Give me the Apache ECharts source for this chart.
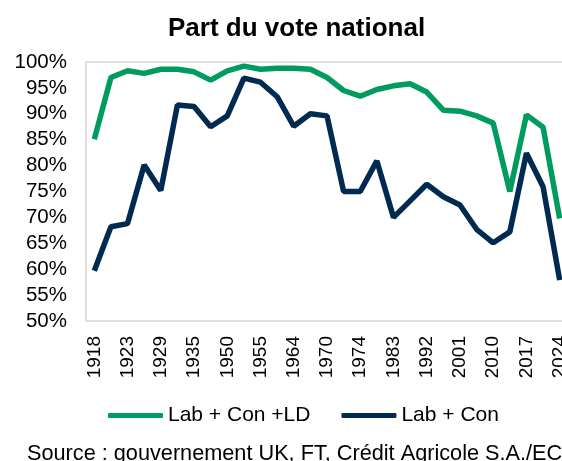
<!DOCTYPE html>
<html>
<head>
<meta charset="utf-8">
<script src="https://cdn.jsdelivr.net/npm/echarts@6/dist/echarts.min.js"></script>
<style>
html,body{margin:0;padding:0;background:#fff;}
#chart{width:562px;height:461px;}
</style>
</head>
<body>
<div id="chart"></div>
<script>
var years = ['1918','1922','1923','1924','1929','1931','1935','1945','1950','1951','1955','1959','1964','1966','1970','1974','1974','1979','1983','1987','1992','1997','2001','2005','2010','2015','2017','2019','2024'];
var labConLd = [85.1,97.0,98.3,97.8,98.6,98.6,98.1,96.5,98.3,99.2,98.6,98.8,98.8,98.6,97.0,94.5,93.4,94.7,95.4,95.8,94.2,90.7,90.5,89.6,88.2,75.0,89.8,87.4,69.8];
var labCon = [59.7,68.2,68.8,80.1,75.2,91.7,91.4,87.5,89.6,96.9,96.1,93.3,87.6,90.0,89.6,75.0,75.0,80.9,70.0,73.2,76.4,74.0,72.4,67.7,65.1,67.2,82.4,75.9,57.9];
var seriesNames = ['Lab + Con +LD', 'Lab + Con'];
var titleText = 'Part du vote national';
var sourceText = 'Source : gouvernement UK, FT, Crédit Agricole S.A./ECO';

var FONT = 'Liberation Sans, Arial, sans-serif';
var chart = echarts.init(document.getElementById('chart'), null, {renderer: 'canvas'});
chart.setOption({
  animation: false,
  textStyle: {fontFamily: FONT},
  grid: {left: 86, top: 62, height: 259, width: 482, show: true, borderColor: '#BFBFBF', borderWidth: 1, containLabel: false, outerBoundsMode: 'none'},
  xAxis: {
    type: 'category',
    data: years,
    boundaryGap: true,
    axisLine: {show: false},
    axisTick: {show: false},
    splitLine: {show: false},
    axisLabel: {
      rotate: 90,
      interval: 1,
      margin: 15,
      fontSize: 19,
      color: '#000',
      fontFamily: FONT,
      hideOverlap: false
    }
  },
  yAxis: {
    type: 'value',
    min: 50,
    max: 100,
    interval: 5,
    axisLine: {show: false},
    axisTick: {show: false},
    splitLine: {show: false},
    axisLabel: {formatter: '{value}%', fontSize: 20.5, color: '#000', margin: 19, fontFamily: FONT}
  },
  legend: {
    left: 103,
    top: 400,
    itemWidth: 55,
    itemHeight: 5,
    itemGap: 31,
    icon: 'roundRect',
    textStyle: {fontSize: 21, color: '#000', fontFamily: FONT},
    data: seriesNames
  },
  graphic: [
    {type: 'text', left: 168, top: 16, style: {text: titleText, font: 'bold 26px ' + FONT, fill: '#000'}},
    {type: 'text', left: 27, top: 443, style: {text: sourceText, font: '21.7px ' + FONT, fill: '#000'}}
  ],
  series: [
    {name: seriesNames[0], type: 'line', data: labConLd, showSymbol: false, symbol: 'none', lineStyle: {width: 5.5, color: '#009B5F'}, itemStyle: {color: '#009B5F'}},
    {name: seriesNames[1], type: 'line', data: labCon, showSymbol: false, symbol: 'none', lineStyle: {width: 5.5, color: '#002A4F'}, itemStyle: {color: '#002A4F'}}
  ]
});
</script>
</body>
</html>
